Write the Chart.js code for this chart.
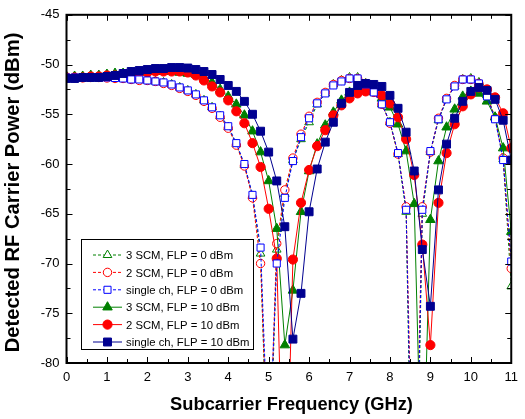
<!DOCTYPE html>
<html>
<head>
<meta charset="utf-8">
<script src="https://cdn.jsdelivr.net/npm/chart.js@4.4.0/dist/chart.umd.min.js"></script>
<style>
  html, body { margin: 0; padding: 0; background: #fff; }
</style>
</head>
<body>
<canvas id="carrierChart" width="525" height="419"></canvas>
<script>
// subcarrier frequency (GHz)
const freqGHz = [0, 0.2, 0.4, 0.6, 0.8, 1, 1.2, 1.4, 1.6, 1.8,
  2, 2.2, 2.4, 2.6, 2.8, 3, 3.2, 3.4, 3.6, 3.8,
  4, 4.2, 4.4, 4.6, 4.8, 5, 5.2, 5.4, 5.6, 5.8,
  6, 6.2, 6.4, 6.6, 6.8, 7, 7.2, 7.4, 7.6, 7.8,
  8, 8.2, 8.4, 8.6, 8.8, 9, 9.2, 9.4, 9.6, 9.8,
  10, 10.2, 10.4, 10.6, 10.8, 11];

// detected RF carrier power (dBm), FLP = 0 dBm
const scm3Flp0 = [-51.2, -51.2, -51.2, -51.3, -51.3, -51.3, -51.3, -51.4, -51.4, -51.5,
  -51.6, -51.7, -51.8, -52.0, -52.3, -52.6, -53.0, -53.6, -54.3, -55.2,
  -56.3, -58.0, -60.1, -63.2, -69.0, -95, -68.6, -63.0, -59.6, -57.5,
  -55.8, -54.0, -52.9, -52.0, -51.6, -51.3, -51.3, -51.9, -52.8, -54.0,
  -55.8, -59.0, -64.8, -110, -65.0, -58.8, -55.6, -53.5, -52.2, -51.5,
  -51.4, -51.8, -53.1, -55.3, -59.5, -72.3];
const scm2Flp0 = [-51.3, -51.3, -51.3, -51.3, -51.3, -51.35, -51.4, -51.4, -51.5, -51.6,
  -51.6, -51.7, -51.9, -52.1, -52.4, -52.7, -53.1, -53.7, -54.4, -55.3,
  -56.4, -58.1, -60.2, -63.4, -70.0, -92, -68.0, -62.6, -59.4, -57.0,
  -55.2, -53.8, -52.8, -52.0, -51.6, -51.4, -51.4, -51.9, -52.8, -54.0,
  -55.9, -59.0, -64.3, -100, -64.3, -58.8, -55.4, -53.4, -52.1, -51.5,
  -51.5, -51.9, -53.1, -55.4, -59.4, -70.5];
const singleFlp0 = [-51.3, -51.3, -51.3, -51.3, -51.3, -51.3, -51.35, -51.4, -51.5, -51.5,
  -51.6, -51.7, -51.8, -52.0, -52.3, -52.6, -53.0, -53.6, -54.3, -55.1,
  -56.2, -57.9, -60.0, -63.1, -68.4, -90, -70.0, -63.4, -59.7, -57.3,
  -55.4, -53.9, -52.9, -52.1, -51.7, -51.4, -51.4, -52.0, -52.8, -54.0,
  -55.8, -58.9, -64.6, -105, -64.6, -58.7, -55.5, -53.5, -52.2, -51.5,
  -51.5, -51.9, -53.2, -55.5, -59.6, -69.8];

// FLP = 10 dBm
const scm3Flp10 = [-51.2, -51.2, -51.2, -51.1, -51.1, -51.0, -50.9, -50.9, -50.8, -50.8,
  -50.7, -50.7, -50.7, -50.7, -50.8, -50.9, -51.0, -51.3, -51.8, -52.5,
  -53.2, -54.0, -55.1, -56.7, -58.8, -61.7, -66.5, -78.2, -72.7, -64.8,
  -60.7, -58.0, -56.1, -54.8, -53.6, -52.8, -52.4, -52.5, -52.7, -53.4,
  -54.3, -56.0, -58.7, -64.0, -95, -65.6, -59.7, -56.3, -54.5, -53.2,
  -52.7, -52.9, -53.7, -55.3, -58.4, -66.8];
const scm2Flp10 = [-51.3, -51.3, -51.3, -51.2, -51.2, -51.1, -51.1, -51.0, -50.9, -50.8,
  -50.8, -50.7, -50.7, -50.7, -50.7, -50.8, -51.1, -51.6, -52.2, -52.8,
  -53.6, -54.7, -55.9, -57.9, -60.3, -64.5, -69.5, -100, -69.6, -63.9,
  -60.6, -58.2, -56.6, -55.1, -54.1, -53.4, -52.9, -52.7, -52.7, -53.1,
  -53.9, -55.3, -57.5, -61.1, -68.1, -78.2, -63.9, -58.9, -56.0, -54.2,
  -53.0, -52.3, -52.5, -53.3, -54.9, -58.4];
const singleFlp10 = [-51.4, -51.4, -51.3, -51.3, -51.3, -51.2, -51.1, -50.9, -50.7, -50.6,
  -50.5, -50.4, -50.4, -50.3, -50.3, -50.35, -50.5, -50.7, -51.0, -51.5,
  -52.1, -52.7, -53.7, -55.0, -56.7, -58.8, -61.7, -66.3, -77.6, -73.0,
  -64.8, -60.5, -57.8, -55.8, -53.9, -52.8, -52.1, -51.9, -52.0, -52.2,
  -53.1, -54.4, -56.8, -60.7, -68.6, -74.3, -62.6, -58.0, -55.4, -53.7,
  -52.7, -52.3, -52.6, -53.5, -55.6, -59.6];

const xTicks = [0, 1, 2, 3, 4, 5, 6, 7, 8, 9, 10, 11];
const yTicks = [-80, -75, -70, -65, -60, -55, -50, -45];

const FONT = "'Liberation Sans', Arial, sans-serif";
const GREEN = '#008000', RED = '#ff0000', BLUE = '#0000ff', NAVY = '#000090';

const toPoints = arr => freqGHz.map((f, i) => ({ x: f, y: arr[i] }));

function series(label, values, color, shape, radius, open, order) {
  return {
    label,
    data: toPoints(values),
    borderColor: color,
    backgroundColor: open ? '#fff' : color,
    borderWidth: 1,
    borderDash: open ? [3, 2] : [],
    pointStyle: shape,
    pointRadius: radius,
    pointBorderWidth: 1,
    pointBorderColor: color,
    pointBackgroundColor: open ? '#fff' : color,
    tension: 0,
    order
  };
}

const datasets = [
  series('3 SCM, FLP = 0 dBm', scm3Flp0, GREEN, 'triangle', 5, true, 5),
  series('2 SCM, FLP = 0 dBm', scm2Flp0, RED, 'circle', 4.2, true, 4),
  series('single ch, FLP = 0 dBm', singleFlp0, BLUE, 'rect', 5, true, 1),
  series('3 SCM, FLP = 10 dBm', scm3Flp10, GREEN, 'triangle', 5.5, false, 3),
  series('2 SCM, FLP = 10 dBm', scm2Flp10, RED, 'circle', 4.6, false, 2),
  series('single ch, FLP = 10 dBm', singleFlp10, NAVY, 'rect', 5.6, false, 0)
];

function drawMarker(ctx, ds, x, y) {
  const r = ds.pointRadius;
  ctx.save();
  ctx.setLineDash([]);
  ctx.lineWidth = 1;
  ctx.strokeStyle = ds.pointBorderColor;
  ctx.fillStyle = ds.pointBackgroundColor;
  ctx.beginPath();
  if (ds.pointStyle === 'circle') {
    ctx.arc(x, y, r, 0, Math.PI * 2);
  } else if (ds.pointStyle === 'rect') {
    const s = Math.SQRT1_2 * r;
    ctx.rect(x - s, y - s, 2 * s, 2 * s);
  } else {
    ctx.moveTo(x, y - r);
    ctx.lineTo(x + Math.sin(2 * Math.PI / 3) * r, y - Math.cos(2 * Math.PI / 3) * r);
    ctx.lineTo(x + Math.sin(4 * Math.PI / 3) * r, y - Math.cos(4 * Math.PI / 3) * r);
    ctx.closePath();
  }
  ctx.fill();
  ctx.stroke();
  ctx.restore();
}

const framePlugin = {
  id: 'frame',
  afterDraw(chart) {
    const { ctx, chartArea: a, scales: { x, y } } = chart;
    ctx.save();
    ctx.strokeStyle = '#000';
    ctx.lineWidth = 1;
    ctx.beginPath();
    for (let k = 0; k <= 22; k++) {
      const px = Math.round(x.getPixelForValue(k / 2)) + 0.5;
      const len = k % 2 === 0 ? 6 : 4;
      ctx.moveTo(px, a.bottom); ctx.lineTo(px, a.bottom - len);
      ctx.moveTo(px, a.top); ctx.lineTo(px, a.top + len);
    }
    for (let k = 0; k <= 14; k++) {
      const py = Math.round(y.getPixelForValue(-80 + k * 2.5)) + 0.5;
      const len = k % 2 === 0 ? 6 : 4;
      ctx.moveTo(a.left, py); ctx.lineTo(a.left + len, py);
      ctx.moveTo(a.right, py); ctx.lineTo(a.right - len, py);
    }
    ctx.stroke();
    ctx.lineWidth = 2;
    ctx.strokeRect(a.left, a.top, a.width, a.height);

    // axis titles
    ctx.fillStyle = '#000';
    ctx.textAlign = 'center';
    ctx.textBaseline = 'middle';
    ctx.font = 'bold 18.3px ' + FONT;
    ctx.fillText('Subcarrier Frequency (GHz)', 291.5, 405);
    ctx.save();
    ctx.translate(13, 192.5);
    ctx.rotate(-Math.PI / 2);
    ctx.font = 'bold 20.2px ' + FONT;
    ctx.fillText('Detected RF Carrier Power (dBm)', 0, 0);
    ctx.restore();

    // legend
    const box = { left: 81, top: 239, right: 253, bottom: 349 };
    ctx.fillStyle = '#fff';
    ctx.fillRect(box.left, box.top, box.right - box.left, box.bottom - box.top);
    ctx.lineWidth = 1;
    ctx.strokeStyle = '#000';
    ctx.strokeRect(box.left + 0.5, box.top + 0.5, box.right - box.left, box.bottom - box.top);
    ctx.font = '11.3px ' + FONT;
    ctx.textAlign = 'left';
    chart.data.datasets.forEach((ds, i) => {
      const ly = 255 + i * 17.4;
      ctx.save();
      ctx.strokeStyle = ds.borderColor;
      ctx.setLineDash(ds.borderDash);
      ctx.beginPath();
      ctx.moveTo(93, ly); ctx.lineTo(122, ly);
      ctx.stroke();
      ctx.restore();
      drawMarker(ctx, ds, 107.5, ly);
      ctx.fillStyle = '#000';
      ctx.fillText(ds.label, 126, ly + 1);
    });
    ctx.restore();
  }
};

new Chart(document.getElementById('carrierChart'), {
  type: 'line',
  data: { datasets },
  options: {
    responsive: false,
    animation: false,
    layout: { padding: { top: 13, right: 8, left: 0, bottom: 0 } },
    plugins: { legend: { display: false }, tooltip: { enabled: false } },
    scales: {
      x: {
        type: 'linear', min: 0, max: 11,
        afterBuildTicks: s => { s.ticks = xTicks.map(v => ({ value: v })); },
        ticks: { color: '#000', font: { family: FONT, size: 13 }, padding: 7, maxRotation: 0 },
        grid: { display: false, drawTicks: false },
        border: { display: false },
        afterFit: s => { s.height = 56; }
      },
      y: {
        type: 'linear', min: -80, max: -45,
        afterBuildTicks: s => { s.ticks = yTicks.map(v => ({ value: v })); },
        ticks: { color: '#000', font: { family: FONT, size: 13 }, padding: 7 },
        grid: { display: false, drawTicks: false },
        border: { display: false },
        afterFit: s => { s.width = 66.5; }
      }
    }
  },
  plugins: [framePlugin]
});
</script>
</body>
</html>
